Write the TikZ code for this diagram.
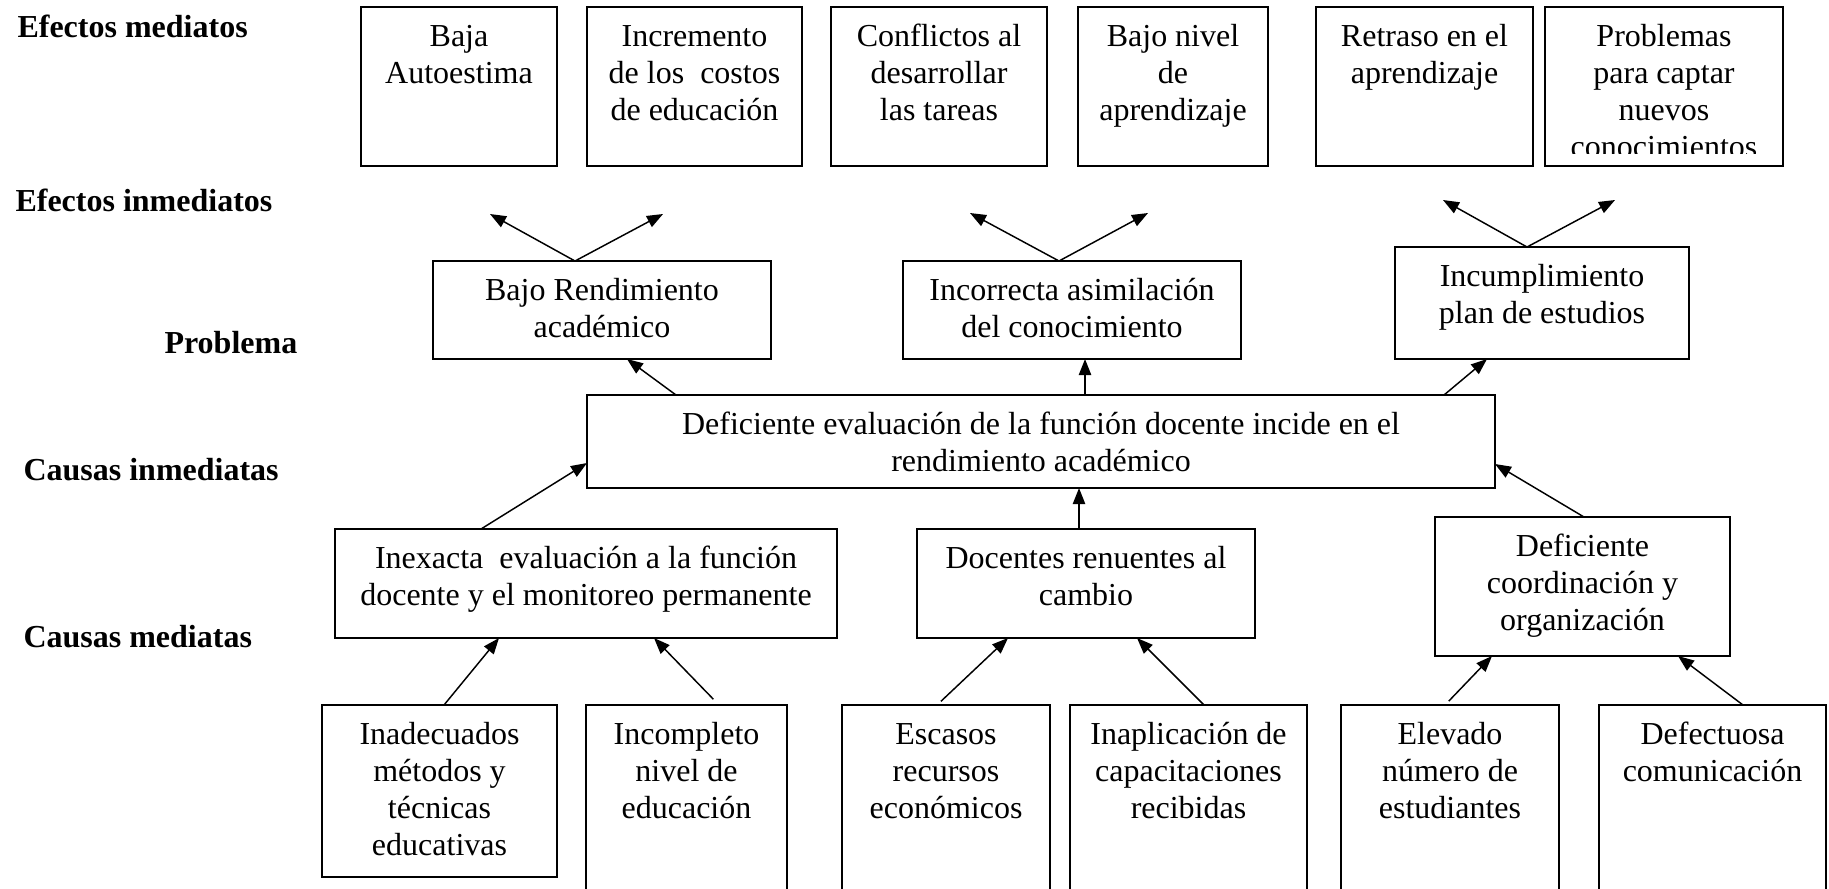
\documentclass[tikz,border=0pt]{standalone}
\usepackage{fontspec}
\setmainfont{Liberation Serif}
\usetikzlibrary{arrows.meta,calc}
\newcommand\bt[3]{\parbox[c][\dimexpr0.375pt*#2\relax][t]{\dimexpr0.375pt*#1\relax}{\centering\rule{0pt}{\dimexpr0.375pt*39\relax}#3\par}}
\tikzset{
  bx/.style={draw, line width=0.75pt, inner sep=0pt, outer sep=0pt, anchor=north west,
             font=\fontsize{12}{13.875}\selectfont},
  lab/.style={anchor=base west, inner sep=0pt, font=\fontsize{12}{13.875}\selectfont\bfseries},
  arr/.style={-{Triangle[length=6pt,width=4.6pt]}, line width=0.55pt},
}
\begin{document}
\begin{tikzpicture}[x=0.375pt, y=-0.375pt]
\useasboundingbox (0,0) rectangle (1829,888);
\clip (0,0) rectangle (1829,888);

% level labels
\node[lab] (l1) at (17,37) {Efectos mediatos};
\node[lab] (l2) at (15,211) {Efectos inmediatos};
\node[lab] (l3) at (164,353) {Problema};
\node[lab] (l4) at (23,480) {Causas inmediatas};
\node[lab] (l5) at (23,647) {Causas mediatas};

% top row
\node[bx] (baja) at (361,7) {\bt{196}{159}{Baja\\Autoestima}};
\node[bx] (incr) at (587,7) {\bt{215}{159}{Incremento\\de los~ costos\\de educación}};
\node[bx] (conf) at (831,7) {\bt{216}{159}{Conflictos al\\desarrollar\\las tareas}};
\node[bx] (bniv) at (1078,7) {\bt{190}{159}{Bajo nivel\\de\\aprendizaje}};
\node[bx] (retr) at (1316,7) {\bt{217}{159}{Retraso en el\\aprendizaje}};
\begin{scope}
\clip (1545,7) rectangle (1783,153);
\node[bx, draw=none] (probtxt) at (1545,7) {\bt{238}{159}{Problemas\\para captar\\nuevos\\conocimientos}};
\end{scope}
\node[bx] (prob) at (1545,7) {\bt{238}{159}{}};

% problem row
\node[bx] (bajo) at (433,261) {\bt{338}{98}{Bajo Rendimiento\\académico}};
\node[bx] (inco) at (903,261) {\bt{338}{98}{Incorrecta asimilación\\del conocimiento}};
\node[bx] (incu) at (1395,247) {\bt{294}{112}{Incumplimiento\\plan de estudios}};

% central problem
\node[bx] (def) at (587,395) {\bt{908}{93}{Deficiente evaluación de la función docente incide en el\\rendimiento académico}};

% immediate causes
\node[bx] (inex) at (335,529) {\bt{502}{109}{Inexacta~ evaluación a la función\\docente y el monitoreo permanente}};
\node[bx] (doce) at (917,529) {\bt{338}{109}{Docentes renuentes al\\cambio}};
\node[bx] (coor) at (1435,517) {\bt{295}{139}{Deficiente\\coordinación y\\organización}};

% mediate causes
\node[bx] (inad) at (322,705) {\bt{235}{172}{Inadecuados\\métodos y\\técnicas\\educativas}};
\node[bx] (incp) at (586,705) {\bt{201}{240}{Incompleto\\nivel de\\educación}};
\node[bx] (esca) at (842,705) {\bt{208}{240}{Escasos\\recursos\\económicos}};
\node[bx] (inap) at (1070,705) {\bt{237}{240}{Inaplicación de\\capacitaciones\\recibidas}};
\node[bx] (elev) at (1341,705) {\bt{218}{240}{Elevado\\número de\\estudiantes}};
\node[bx] (defe) at (1599,705) {\bt{227}{240}{Defectuosa\\comunicación}};

% effect arrows (free ends)
\coordinate (e1) at (490,214);
\coordinate (e2) at (663,214);
\coordinate (e3) at (970,213);
\coordinate (e4) at (1148,213);
\coordinate (e5) at (1443,200);
\coordinate (e6) at (1615,200);
\draw[arr] (bajo.north -| 575,0) -- (e1);
\draw[arr] (bajo.north -| 575,0) -- (e2);
\draw[arr] (inco.north -| 1059,0) -- (e3);
\draw[arr] (inco.north -| 1059,0) -- (e4);
\draw[arr] (incu.north -| 1527,0) -- (e5);
\draw[arr] (incu.north -| 1527,0) -- (e6);

% central problem to effects
\draw[arr] (def.north -| 676,0) -- (bajo.south -| 627,0);
\draw[arr] (def.north -| 1085,0) -- (inco.south -| 1085,0);
\draw[arr] (def.north -| 1444,0) -- (incu.south -| 1487,0);

% immediate causes to central problem
\draw[arr] (inex.north -| 481,0) -- (def.west |- 0,463);
\draw[arr] (doce.north -| 1079,0) -- (def.south -| 1079,0);
\draw[arr] (coor.north -| 1584,0) -- (def.east |- 0,464);

% mediate causes to immediate causes
\draw[arr] (inad.north -| 444,0) -- (inex.south -| 499,0);
\draw[arr, shorten <=3pt] (incp.north -| 719,0) -- (inex.south -| 654,0);
\draw[arr, shorten <=2pt] (esca.north -| 937,0) -- (doce.south -| 1008,0);
\draw[arr] (inap.north -| 1204,0) -- (doce.south -| 1137,0);
\draw[arr, shorten <=2pt] (elev.north -| 1445,0) -- (coor.south -| 1492,0);
\draw[arr] (defe.north -| 1743,0) -- (coor.south -| 1678,0);
\end{tikzpicture}
\end{document}
